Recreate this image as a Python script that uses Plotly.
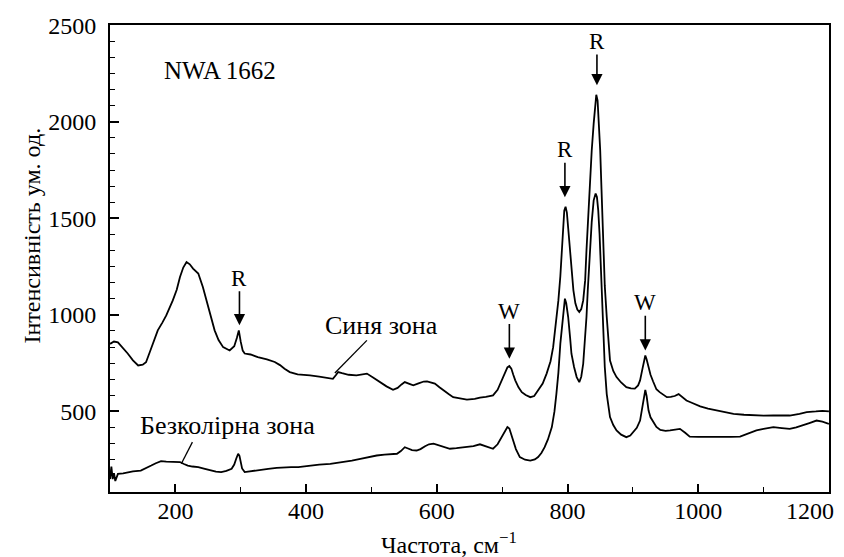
import plotly.graph_objects as go

# ---- data: Синя зона (upper spectrum) ----
blue_x = [100, 106, 112, 120, 127, 135, 143, 150, 155, 160, 165, 173, 180, 186, 196, 202, 207, 212, 217, 222,
          227, 235, 242, 250, 255, 260, 266, 273, 283, 290, 294, 297, 300, 303, 306, 315, 326, 340, 352, 360,
          367, 375, 387, 397, 406, 420, 430, 441, 446, 449, 455, 465, 477, 485, 493, 503, 513, 523, 533, 540,
          546, 551, 558, 564, 572, 580, 585, 591, 597, 604, 610, 618, 625, 635, 646, 658, 666, 675, 686, 693,
          699, 704, 708, 711, 714, 717, 720, 725, 730, 736, 743, 749, 755, 762, 768, 774, 778, 782, 786, 789,
          791, 793, 795, 797, 799, 801, 804, 806, 809, 812, 815, 818, 821, 824, 827, 829, 831, 834, 837, 840,
          842, 844, 846, 848, 850, 852, 855, 857, 860, 863, 865, 870, 875, 882, 890, 897, 903, 908, 911, 914,
          917, 919, 921, 924, 927, 931, 936, 941, 946, 952, 958, 964, 970, 975, 982, 990, 1003, 1015, 1028, 1040,
          1054, 1070, 1084, 1100, 1115, 1128, 1140, 1155, 1166, 1180, 1190, 1200]
blue_y = [850, 862, 858, 830, 800, 765, 738, 742, 755, 800, 850, 920, 960, 997, 1075, 1130, 1196, 1245, 1274, 1262,
          1240, 1214, 1144, 1040, 980, 920, 870, 833, 816, 838, 880, 920, 860, 815, 800, 795, 781, 770, 756, 740,
          721, 704, 692, 690, 687, 680, 676, 669, 690, 704, 698, 690, 687, 690, 696, 675, 652, 630, 612, 622,
          640, 652, 643, 635, 645, 655, 656, 652, 644, 625, 609, 590, 574, 566, 561, 565, 572, 575, 583, 612,
          661, 700, 728, 735, 722, 690, 661, 625, 600, 585, 574, 580, 609, 645, 696, 760, 833, 940, 1075, 1200,
          1334, 1450, 1540, 1560, 1530, 1450, 1334, 1230, 1127, 1060, 1028, 1015, 1030, 1075, 1180, 1334, 1480, 1680, 1850, 1990,
          2090, 2140, 2110, 2000, 1852, 1650, 1334, 1150, 989, 850, 764, 710, 678, 650, 626, 620, 618, 635, 661, 710,
          770, 790, 770, 730, 690, 655, 615, 600, 590, 574, 575, 580, 590, 575, 557, 545, 526, 515, 505, 497,
          488, 483, 479, 478, 479, 478, 479, 488, 497, 500, 503, 500]

# ---- data: Безколірна зона (lower spectrum) ----
clear_x = [100, 102, 104, 106, 108, 112, 120, 127, 135, 147, 155, 163, 170, 178, 186, 194, 200, 207, 213, 219,
           226, 235, 245, 255, 262, 270, 278, 286, 290, 293, 296, 298, 300, 302, 306, 313, 321, 330, 342, 355,
           367, 377, 388, 397, 406, 420, 437, 447, 457, 470, 483, 495, 508, 520, 530, 539, 545, 551, 556, 562,
           569, 575, 582, 588, 595, 602, 610, 620, 630, 646, 656, 666, 676, 686, 693, 699, 704, 708, 711, 714,
           717, 721, 727, 735, 743, 750, 755, 760, 765, 770, 776, 780, 783, 786, 789, 792, 794, 796, 798, 801,
           804, 806, 810, 814, 818, 821, 824, 826, 829, 831, 834, 837, 840, 843, 845, 847, 849, 852, 854, 857,
           860, 865, 870, 875, 882, 890, 896, 901, 906, 911, 914, 917, 919, 921, 924, 927, 931, 936, 942, 950,
           957, 965, 972, 980, 987, 1000, 1013, 1025, 1038, 1050, 1064, 1075, 1089, 1100, 1115, 1128, 1140, 1150, 1161, 1170,
           1181, 1190, 1200]
clear_y = [150, 215, 150, 180, 140, 177, 180, 186, 190, 194, 205, 220, 232, 243, 240, 238, 240, 238, 228, 220,
           215, 212, 203, 194, 188, 186, 192, 203, 225, 255, 281, 270, 235, 205, 186, 190, 194, 198, 203, 208,
           212, 212, 212, 216, 220, 225, 229, 233, 238, 246, 255, 264, 272, 276, 279, 281, 295, 315, 308, 300,
           298, 305, 320, 330, 333, 325, 315, 307, 310, 315, 320, 330, 320, 307, 330, 367, 400, 419, 412, 380,
           350, 305, 264, 250, 246, 252, 264, 285, 315, 355, 419, 500, 592, 700, 851, 960, 1050, 1084, 1060, 989,
           880, 799, 730, 678, 652, 680, 747, 830, 989, 1130, 1317, 1480, 1593, 1628, 1610, 1541, 1420, 1162, 950, 730,
           590, 471, 430, 402, 380, 367, 375, 393, 415, 453, 520, 592, 612, 580, 505, 470, 445, 420, 404, 400,
           402, 405, 410, 390, 370, 368, 367, 366, 367, 368, 370, 385, 402, 410, 419, 414, 410, 418, 428, 440,
           453, 447, 436]

# ---- peak markers (arrow tip on spectrum, label above) ----
peak_labels = ["R", "R", "R", "W", "W"]
peak_x = [298, 796, 845, 711, 919]
peak_tip_y = [946, 1609, 2189, 773, 816]
peak_label_y = [1190, 1855, 2415, 1020, 1063]

# ---- text labels ----
sample_name = "NWA 1662"
zone_labels = ["Синя зона", "Безколірна зона"]
zone_label_x = [515, 280]
zone_label_y = [946, 428]
leader_from = [(493, 868), (226, 341)]
leader_to = [(444, 699), (209, 229)]

x_ticks = [200, 400, 600, 800, 1000, 1200]
x_tick_text = ["200", "400", "600", "800", "1000", ""]
y_ticks = [500, 1000, 1500, 2000, 2500]

FONT = "Liberation Serif"

fig = go.Figure()
fig.add_trace(go.Scatter(x=blue_x, y=blue_y, mode="lines", line=dict(color="black", width=1.8),
                         showlegend=False, hoverinfo="skip"))
fig.add_trace(go.Scatter(x=clear_x, y=clear_y, mode="lines", line=dict(color="black", width=1.8),
                         showlegend=False, hoverinfo="skip"))

annotations = []
for lab, px, ty, ly in zip(peak_labels, peak_x, peak_tip_y, peak_label_y):
    annotations.append(dict(x=px, y=ty, ax=px, ay=ly, xref="x", yref="y", axref="x", ayref="y",
                            text=lab, showarrow=True, arrowhead=2, arrowsize=1.4, arrowwidth=1.6,
                            arrowcolor="black", standoff=0, startstandoff=0,
                            font=dict(family=FONT, size=23, color="black"), borderpad=0))

annotations.append(dict(x=268, y=2267, xref="x", yref="y", text=sample_name, showarrow=False,
                        font=dict(family=FONT, size=25, color="black")))
for lab, lx, ly in zip(zone_labels, zone_label_x, zone_label_y):
    annotations.append(dict(x=lx, y=ly, xref="x", yref="y", text=lab, showarrow=False,
                            font=dict(family=FONT, size=26, color="black")))

# last x tick label, shifted left so it stays inside the page as in the original
annotations.append(dict(x=x_ticks[-1], y=0, xref="x", yref="paper", text="1200", showarrow=False,
                        xanchor="right", yanchor="top", xshift=7, yshift=-4,
                        font=dict(family=FONT, size=24, color="black")))

# axis titles
annotations.append(dict(x=0.471, y=-0.11, xref="paper", yref="paper", xanchor="center", yanchor="middle",
                        text="Частота, см<sup>−1</sup>",
                        showarrow=False, font=dict(family=FONT, size=24, color="black")))
annotations.append(dict(x=-0.108, y=0.55, xref="paper", yref="paper", xanchor="center", yanchor="middle",
                        text="Інтенсивність ум. од.",
                        textangle=-90, showarrow=False, font=dict(family=FONT, size=24, color="black")))

shapes = []
for (x0, y0), (x1, y1) in zip(leader_from, leader_to):
    shapes.append(dict(type="line", xref="x", yref="y", x0=x0, y0=y0, x1=x1, y1=y1,
                       line=dict(color="black", width=1.3)))

# page body adds an 8px offset; compensate in size and margins
fig.update_layout(
    width=836, height=549,
    margin=dict(l=102, r=15, t=17, b=65),
    paper_bgcolor="white", plot_bgcolor="white",
    font=dict(family=FONT, size=24, color="black"),
    annotations=annotations, shapes=shapes,
    showlegend=False,
)
fig.update_xaxes(range=[99.9, 1200.1], tickvals=x_ticks, ticktext=x_tick_text, ticks="inside", ticklen=8,
                 tickwidth=1.6, tickcolor="black", showline=True, linecolor="black", linewidth=1.8, mirror=True,
                 showgrid=False, zeroline=False, ticklabelstandoff=-4, automargin=False,
                 minor=dict(dtick=100, tick0=0, ticks="inside", ticklen=5, tickwidth=1.4, tickcolor="black",
                            showgrid=False),
                 tickfont=dict(family=FONT, size=24, color="black"))
fig.update_yaxes(range=[83, 2501], tickvals=y_ticks, ticks="inside", ticklen=9, tickwidth=1.6,
                 tickcolor="black", showline=True, linecolor="black", linewidth=1.8, mirror=True,
                 showgrid=False, zeroline=False, ticklabelstandoff=7, automargin=False,
                 minor=dict(dtick=500 / 6, tick0=0, ticks="inside", ticklen=5, tickwidth=1.4, tickcolor="black",
                            showgrid=False),
                 tickfont=dict(family=FONT, size=24, color="black"))

fig.write_html("out.html")
